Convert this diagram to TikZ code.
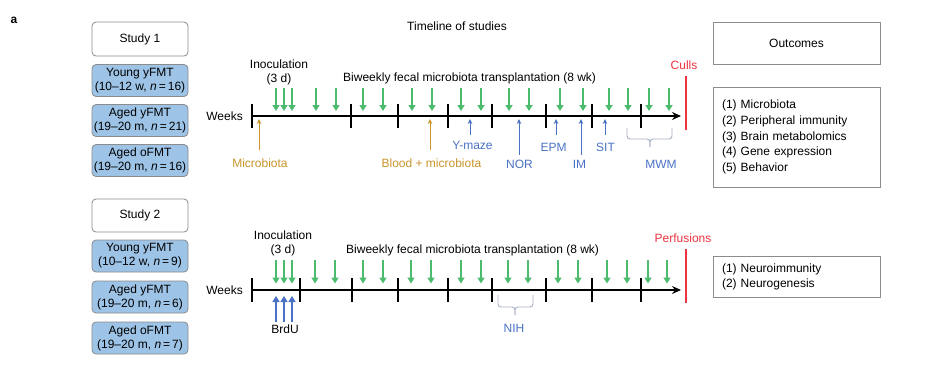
\documentclass[tikz,border=0pt]{standalone}
\usepackage{fontspec}
\setmainfont{Liberation Sans}
\usetikzlibrary{arrows.meta}
\definecolor{gr}{HTML}{4CBB6E}
\definecolor{bfill}{HTML}{9DC3E6}
\definecolor{bline}{HTML}{8C8C8C}
\definecolor{blu}{HTML}{4A72C4}
\definecolor{gold}{HTML}{C9952B}
\definecolor{rd}{HTML}{EE3340}
\definecolor{brc}{HTML}{A9B3C6}
\begin{document}
\begin{tikzpicture}[x=1pt,y=-1pt,
  every node/.style={font=\fontsize{12}{14}\selectfont},
  lab/.style={inner sep=0pt, text height=8.6pt, text depth=0pt},
  wbox/.style={draw=bline, line width=0.8pt, rounded corners=4pt, fill=white,
    minimum width=96pt, minimum height=34pt, inner sep=0pt, align=center},
  bbox/.style={wbox, fill=bfill, minimum height=32pt},
  obox/.style={draw=bline, line width=0.8pt, minimum width=167pt, inner xsep=9pt,
    inner ysep=0pt, text width=149pt, align=left},
  wtick/.style={line width=1.3pt},
  taxis/.style={line width=1.3pt, -{Stealth[length=9pt,width=8pt]}},
  garr/.style={gr, line width=2pt, -{Triangle[length=6pt,width=7pt]}},
  barr/.style={blu, line width=2pt, -{Triangle[length=6pt,width=7pt]}},
  goldarr/.style={gold, line width=0.8pt, -{Stealth[length=5pt,width=4.5pt]}},
  bluarr/.style={blu, line width=0.8pt, -{Stealth[length=5pt,width=4.5pt]}},
  bracket/.style={brc, line width=0.9pt, rounded corners=3pt},
  redline/.style={rd, line width=1.5pt}
]
\useasboundingbox (0,0) rectangle (936,364);
\fill[white] (0,0) rectangle (936,364);

\node[lab, font=\bfseries\fontsize{12}{14}\selectfont] (a) at (14,19) {a};
\node[lab] (title) at (457,26) {Timeline of studies};

% ---------- left boxes ----------
\node[wbox] (st1) at (140,39) {Study 1};
\node[bbox] (g11) at (140,80.5) {Young yFMT\\(10–12 w, \textit{n}\,=\,16)};
\node[bbox] (g12) at (140,120.5) {Aged yFMT\\(19–20 m, \textit{n}\,=\,21)};
\node[bbox] (g13) at (140,160.5) {Aged oFMT\\(19–20 m, \textit{n}\,=\,16)};
\node[wbox, minimum height=33pt] (st2) at (140,215.5) {Study 2};
\node[bbox] (g21) at (140,256) {Young yFMT\\(10–12 w, \textit{n}\,=\,9)};
\node[bbox] (g22) at (140,297) {Aged yFMT\\(19–20 m, \textit{n}\,=\,6)};
\node[bbox] (g23) at (140,338) {Aged oFMT\\(19–20 m, \textit{n}\,=\,7)};

% ---------- outcome boxes ----------
\node[obox, minimum height=42pt, align=center] (outt) at (796.5,43) {Outcomes};
\node[obox, minimum height=100pt, font=\fontsize{12}{15.6}\selectfont] (out1) at (796.5,137)
  {(1) Microbiota\\(2) Peripheral immunity\\(3) Brain metabolomics\\(4) Gene expression\\(5) Behavior};
\node[obox, minimum height=41pt, font=\fontsize{12}{15}\selectfont] (out2) at (796.5,276.5)
  {(1) Neuroimmunity\\(2) Neurogenesis};

% ---------- Study 1 timeline ----------
\node[lab, anchor=east] (wk1) at (243,116) {Weeks};
\node[align=center] (inoc1) at (279,72.5) {Inoculation\\(3 d)};
\node[lab, anchor=west] (bw1) at (343,77) {Biweekly fecal microbiota transplantation (8 wk)};
\node[lab, text=rd] (culls) at (684,65) {Culls};
\coordinate (s1) at (252,116);
\coordinate (e1) at (681,116);
\draw[taxis] (s1) -- (e1);
\foreach \x in {252,351,398,448,492,546,592,641}
  \draw[wtick] (\x,104) -- (\x,128);
\foreach \x in {276,284,292,316,336,363,383,412,432,461,481,509,529,560,583,609,628,649,669}
  \draw[garr] (\x,88) -- (\x,111);
\coordinate (r1a) at (686,76);
\coordinate (r1b) at (686,130);
\draw[redline] (r1a) -- (r1b);

\node[lab, text=gold] (mic) at (260,163) {Microbiota};
\node[lab, text=gold] (blood) at (431.5,163) {Blood + microbiota};
\node[lab, text=blu] (ymz) at (472.5,145) {Y-maze};
\node[lab, text=blu] (nor) at (519.5,164) {NOR};
\node[lab, text=blu] (epm) at (553.5,147) {EPM};
\node[lab, text=blu] (im) at (579.5,164) {IM};
\node[lab, text=blu] (sit) at (605.5,147) {SIT};
\node[lab, text=blu] (mwm) at (661,164) {MWM};

\coordinate (tmic) at (259,119);
\coordinate (tblood) at (430,119);
\coordinate (tymz) at (470,119);
\coordinate (tnor) at (519,119);
\coordinate (tepm) at (556,119);
\coordinate (tim) at (581,119);
\coordinate (tsit) at (605,119);
\draw[goldarr, shorten <=8.5pt] (tmic |- mic.north) -- (tmic);
\draw[goldarr, shorten <=8.5pt] (tblood |- blood.north) -- (tblood);
\draw[bluarr, shorten <=5.5pt] (tymz |- ymz.north) -- (tymz);
\draw[bluarr, shorten <=5pt] (tnor |- nor.north) -- (tnor);
\draw[bluarr, shorten <=7.5pt] (tepm |- epm.north) -- (tepm);
\draw[bluarr, shorten <=5pt] (tim |- im.north) -- (tim);
\draw[bluarr, shorten <=7.5pt] (tsit |- sit.north) -- (tsit);

\draw[bracket] (627,128) |- (650,139) -- (650,147);
\draw[bracket] (672,128) |- (650,139) -- (650,147);

% ---------- Study 2 timeline ----------
\node[lab, anchor=east] (wk2) at (243,290) {Weeks};
\node[align=center] (inoc2) at (283,243) {Inoculation\\(3 d)};
\node[lab, anchor=west] (bw2) at (346,249) {Biweekly fecal microbiota transplantation (8 wk)};
\node[lab, text=rd] (perf) at (683,238) {Perfusions};
\coordinate (s2) at (252,290);
\coordinate (e2) at (681,290);
\draw[taxis] (s2) -- (e2);
\foreach \x in {252,300,352,398,448,492,546,592,641}
  \draw[wtick] (\x,278) -- (\x,302);
\foreach \x in {276,284,292,315,335,363,383,411,431,461,481,508,528,558,578,607,627,648,667}
  \draw[garr] (\x,260) -- (\x,283.5);
\coordinate (r2a) at (686,249);
\coordinate (r2b) at (686,303);
\draw[redline] (r2a) -- (r2b);

\node[lab] (brdu) at (285,329) {BrdU};
\coordinate (b1) at (276,296);
\coordinate (b2) at (284,296);
\coordinate (b3) at (292,296);
\foreach \b in {b1,b2,b3}
  \draw[barr, shorten <=2.5pt] (\b |- brdu.north) -- (\b);

\node[lab, text=blu] (nih) at (514,328) {NIH};
\draw[bracket] (498,295) |- (515,307) -- (515,315);
\draw[bracket] (533,295) |- (515,307) -- (515,315);
\end{tikzpicture}
\end{document}
